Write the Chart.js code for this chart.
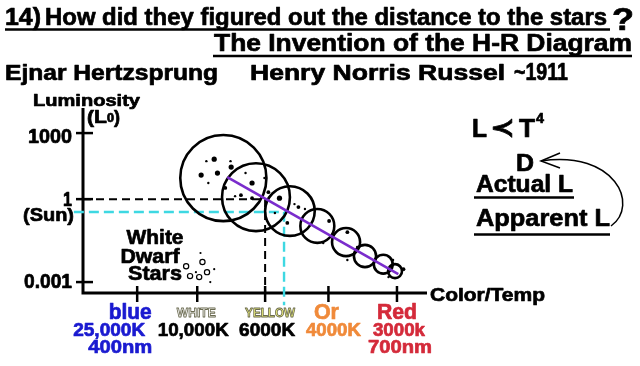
<!DOCTYPE html>
<html>
<head>
<meta charset="utf-8">
<script src="https://cdn.jsdelivr.net/npm/chart.js@4"></script>
<style>
  html, body { margin: 0; padding: 0; background: #fff; }
  canvas { display: block; }
</style>
</head>
<body>
<canvas id="hr" width="640" height="366"></canvas>
<script>
// colour classes along the bottom axis
const colorClass = ['blue', 'White', 'Yellow', 'Or', 'Red'];
const tempLabels = ['25,000K', '10,000K', '6000K', '4000K', '3000k'];
const waveLabels = ['400nm', '', '', '', '700nm'];
const xTickPos = [0, 0.92, 1.96, 2.93, 3.98];

// luminosity ticks (log10 L, as drawn on the sketch)
const yTickLabels = ['1000', '1', '0.001'];
const yTickPos = [3, 0.34, -3];

// big stars along the main sequence (size in x units)
const starX = [1.32, 1.82, 2.34, 2.76, 3.20, 3.49, 3.77, 3.95];
const starY = [1.19, 0.42, -0.14, -0.74, -1.39, -1.95, -2.28, -2.56];
const starSize = [0.66, 0.52, 0.38, 0.26, 0.215, 0.17, 0.145, 0.107];

// main sequence line
const mainSeqX = [1.38, 4.0];
const mainSeqY = [1.23, -2.68];

// scattered stars (mag: 1 faint .. 3 bright)
const dotX = [1.18, 1.06, 1.43, 1.44, 0.98, 1.23, 1.09, 1.35, 1.66, 1.76, 1.95, 1.59, 1.50, 1.76, 2.01,
              2.18, 2.11, 2.41, 2.47, 2.57, 2.30, 2.94, 2.85, 3.22, 3.37, 3.22, 3.92, 4.08, 3.85];
const dotY = [1.95, 1.87, 1.87, 1.63, 1.31, 1.39, 0.99, 0.79, 1.39, 0.99, 1.19, 0.50, 0.46, 0.38, 0.62,
              0.38, -0.22, 0.14, 0.02, -0.06, -0.62, -0.54, -1.43, -0.99, -1.59, -2.11, -2.11, -2.48, -2.80];
const dotMag = [3, 1, 1, 3, 3, 3, 1, 2, 1, 3, 1, 2, 1, 2, 2, 3, 1, 1, 2, 1, 2, 2, 1, 2, 1, 1, 1, 2, 1];

// white dwarfs
const wdX = [0.75, 1.00, 1.07, 0.95, 0.81];
const wdY = [-2.36, -2.19, -2.60, -2.80, -2.76];
const wdDotX = [0.97, 1.18, 1.12, 0.90];
const wdDotY = [-1.83, -2.48, -3.0, -2.60];

// the Sun
const sunX = 2.25;
const sunY = -0.18;

const X_MIN = -0.83, X_MAX = 4.44, Y_MIN = -3.44, Y_MAX = 4.01;

const FONT = '"Liberation Sans", Arial, "DejaVu Sans", sans-serif';

function pts(xs, ys) {
    return xs.map((x, i) => ({ x: x, y: ys[i] }));
}

// heavy bold text squeezed to a width (narrow look), y is the baseline
function fitText(ctx, text, x, y, w, size, color, align, stroke) {
    ctx.save();
    ctx.font = 'bold ' + size + 'px ' + FONT;
    const m = ctx.measureText(text).width;
    const width = w || m * 0.86;
    const sx = width / m;
    let left = x;
    if (align === 'center') left = x - width / 2;
    if (align === 'right') left = x - width;
    ctx.translate(left, y);
    ctx.scale(sx, 1);
    ctx.textAlign = 'left';
    ctx.textBaseline = 'alphabetic';
    ctx.fillStyle = color;
    ctx.fillText(text, 0, 0);
    ctx.lineJoin = 'round';
    if (stroke) {
        ctx.lineWidth = 0.9;
        ctx.strokeStyle = stroke;
    } else {
        ctx.lineWidth = 0.7;
        ctx.strokeStyle = color;
    }
    ctx.strokeText(text, 0, 0);
    ctx.restore();
}

function hline(ctx, x1, x2, y, lw) {
    ctx.beginPath();
    ctx.lineWidth = lw;
    ctx.strokeStyle = '#000';
    ctx.moveTo(x1, y);
    ctx.lineTo(x2, y);
    ctx.stroke();
}

const hrDecor = {
    id: 'hrDecor',
    beforeDatasetsDraw(chart) {
        const ctx = chart.ctx;
        const sx = chart.scales.x, sy = chart.scales.y;
        const left = sx.getPixelForValue(X_MIN);
        const right = sx.getPixelForValue(X_MAX);
        const bottom = sy.getPixelForValue(Y_MIN);
        const top = sy.getPixelForValue(Y_MAX);
        ctx.save();
        ctx.strokeStyle = '#000';
        ctx.lineWidth = 3;
        ctx.beginPath();
        ctx.moveTo(left, top);
        ctx.lineTo(left, bottom);
        ctx.lineTo(right, bottom);
        ctx.stroke();
        ctx.lineWidth = 2.5;
        yTickPos.forEach(v => {
            const py = sy.getPixelForValue(v);
            ctx.beginPath();
            ctx.moveTo(left - 7, py);
            ctx.lineTo(left + 10, py);
            ctx.stroke();
        });
        xTickPos.forEach(v => {
            const px = sx.getPixelForValue(v);
            ctx.beginPath();
            ctx.moveTo(px, bottom - 7);
            ctx.lineTo(px, bottom + 9);
            ctx.stroke();
        });
        ctx.restore();
    },
    afterDraw(chart) {
        const ctx = chart.ctx;
        const sx = chart.scales.x, sy = chart.scales.y;
        const left = sx.getPixelForValue(X_MIN);

        // header
        fitText(ctx, '14)', 5, 25, 36, 24, '#000');
        fitText(ctx, 'How did they figured out the distance to the stars', 45, 25, 562, 24, '#000');
        fitText(ctx, '?', 612, 30, 22, 32, '#000');
        hline(ctx, 5, 610, 29.5, 2.5);
        fitText(ctx, 'The Invention of the H-R Diagram', 214, 51, 418, 24, '#000');
        hline(ctx, 213, 632, 56, 2.5);
        fitText(ctx, 'Ejnar Hertzsprung', 5, 80, 213, 22, '#000');
        fitText(ctx, 'Henry Norris Russel', 250, 80, 255, 22, '#000');
        fitText(ctx, '~1911', 514, 80, 54, 23, '#000');

        // y axis title
        fitText(ctx, 'Luminosity', 33, 106, 107, 17, '#000');
        fitText(ctx, '(L', 87, 123, 20, 18, '#000');
        fitText(ctx, '0', 107, 122, 7, 12, '#000');
        fitText(ctx, ')', 114, 123, 6, 18, '#000');

        // y tick labels
        const yOff = [10, 7, 6];
        const yW = [44, 9, 48];
        yTickLabels.forEach((t, i) => {
            const py = sy.getPixelForValue(yTickPos[i]);
            fitText(ctx, t, left - 11, py + yOff[i], yW[i], 20, '#000', 'right');
        });
        fitText(ctx, '(Sun)', left - 9, 221, 51, 19, '#000', 'right');

        // x tick labels
        const row1Color = ['#1a1ad0', '#ffffff', '#eef07a', '#f08a3a', '#d42a3a'];
        const row2Color = ['#1a1ad0', '#000', '#000', '#f08a3a', '#d42a3a'];
        const dx1 = [-7, -1, 5, -2, 0];
        const dx2 = [-28, -4, 2, 5, 2];
        const dx3 = [-17, 0, 0, 0, 3];
        const w1 = [43, 39, 50, 25, 40];
        const w2 = [72, 71, 56, 55, 52];
        colorClass.forEach((c, i) => {
            const px = sx.getPixelForValue(xTickPos[i]);
            if (c === 'White' || c === 'Yellow') {
                fitText(ctx, c.toUpperCase(), px + dx1[i], 317, w1[i], 13, row1Color[i], 'center', '#6a6a50');
            } else {
                fitText(ctx, c, px + dx1[i], 319, w1[i], 22, row1Color[i], 'center');
            }
            fitText(ctx, tempLabels[i], px + dx2[i], 336, w2[i], 18, row2Color[i], 'center');
            if (waveLabels[i]) fitText(ctx, waveLabels[i], px + dx3[i], 353, 64, 19, row2Color[i], 'center');
        });
        fitText(ctx, 'Color/Temp', 430, 301, 115, 19, '#000');

        // white dwarf label
        fitText(ctx, 'White', 155, 244, 57, 21, '#000', 'center');
        fitText(ctx, 'Dwarf', 150, 263, 59, 21, '#000', 'center');
        fitText(ctx, 'Stars', 155, 280, 54, 21, '#000', 'center');

        // right-hand notes
        fitText(ctx, 'L', 472, 137, 15, 25, '#000');
        fitText(ctx, '\u227A', 490, 136, 25, 25, '#000');
        fitText(ctx, 'T', 519, 137, 16, 25, '#000');
        fitText(ctx, '4', 536, 123, 8, 15, '#000');
        fitText(ctx, 'D', 516, 171, 18, 24, '#000');
        fitText(ctx, 'Actual L', 476, 192, 97, 24, '#000');
        hline(ctx, 474, 574, 197.5, 2.5);
        fitText(ctx, 'Apparent L', 476, 226, 134, 24, '#000');
        hline(ctx, 474, 610, 234.5, 2.5);

        // arrow from "Apparent L" back to D
        ctx.save();
        ctx.strokeStyle = '#000';
        ctx.lineWidth = 1.5;
        ctx.beginPath();
        ctx.moveTo(611, 226);
        ctx.bezierCurveTo(640, 205, 615, 150, 541, 161);
        ctx.stroke();
        ctx.beginPath();
        ctx.moveTo(560, 153);
        ctx.lineTo(541, 161);
        ctx.lineTo(560, 168);
        ctx.stroke();
        ctx.restore();
    }
};

new Chart(document.getElementById('hr'), {
    type: 'scatter',
    data: {
        datasets: [
            {
                // scattered stars
                data: pts(dotX, dotY),
                pointRadius: c => [0, 1.2, 1.9, 2.6][dotMag[c.dataIndex]],
                pointBackgroundColor: '#000',
                pointBorderWidth: 0,
                order: 1
            },
            {
                data: pts(wdDotX, wdDotY),
                pointRadius: 1.1,
                pointBackgroundColor: '#000',
                pointBorderWidth: 0,
                order: 1
            },
            {
                // white dwarfs
                data: pts(wdX, wdY),
                pointRadius: 2.6,
                pointBackgroundColor: 'rgba(0,0,0,0)',
                pointBorderColor: '#000',
                pointBorderWidth: 1.2,
                order: 1
            },
            {
                // main sequence
                data: pts(mainSeqX, mainSeqY),
                showLine: true,
                borderColor: '#7a2ccc',
                borderWidth: 2.6,
                pointRadius: 0,
                order: 2
            },
            {
                // big stars
                data: pts(starX, starY),
                pointRadius: c => {
                    const s = c.chart.scales.x;
                    return starSize[c.dataIndex] * (s.getPixelForValue(1) - s.getPixelForValue(0));
                },
                pointBackgroundColor: 'rgba(0,0,0,0)',
                pointBorderColor: '#000',
                pointBorderWidth: 2.6,
                clip: false,
                order: 3
            },
            {
                // the Sun read-off (cyan)
                data: [{ x: -0.97, y: sunY }, { x: sunX, y: sunY }, { x: sunX, y: -3.93 }],
                showLine: true,
                borderColor: '#3ed8e2',
                borderWidth: 2.4,
                borderDash: [10, 5],
                pointRadius: 0,
                clip: false,
                order: 4
            },
            {
                // L = 1 guide (black)
                data: [{ x: X_MIN, y: yTickPos[1] }, { x: xTickPos[2], y: yTickPos[1] }, { x: xTickPos[2], y: Y_MIN }],
                showLine: true,
                borderColor: '#000',
                borderWidth: 2,
                borderDash: [8, 5],
                pointRadius: 0,
                order: 4
            }
        ]
    },
    options: {
        responsive: false,
        animation: false,
        events: [],
        devicePixelRatio: 1,
        layout: { padding: { left: 83, top: 108, right: 213, bottom: 73 } },
        scales: {
            x: { type: 'linear', min: X_MIN, max: X_MAX, display: false },
            y: { type: 'linear', min: Y_MIN, max: Y_MAX, display: false }
        },
        plugins: {
            legend: { display: false },
            tooltip: { enabled: false }
        }
    },
    plugins: [hrDecor]
});
</script>
</body>
</html>
